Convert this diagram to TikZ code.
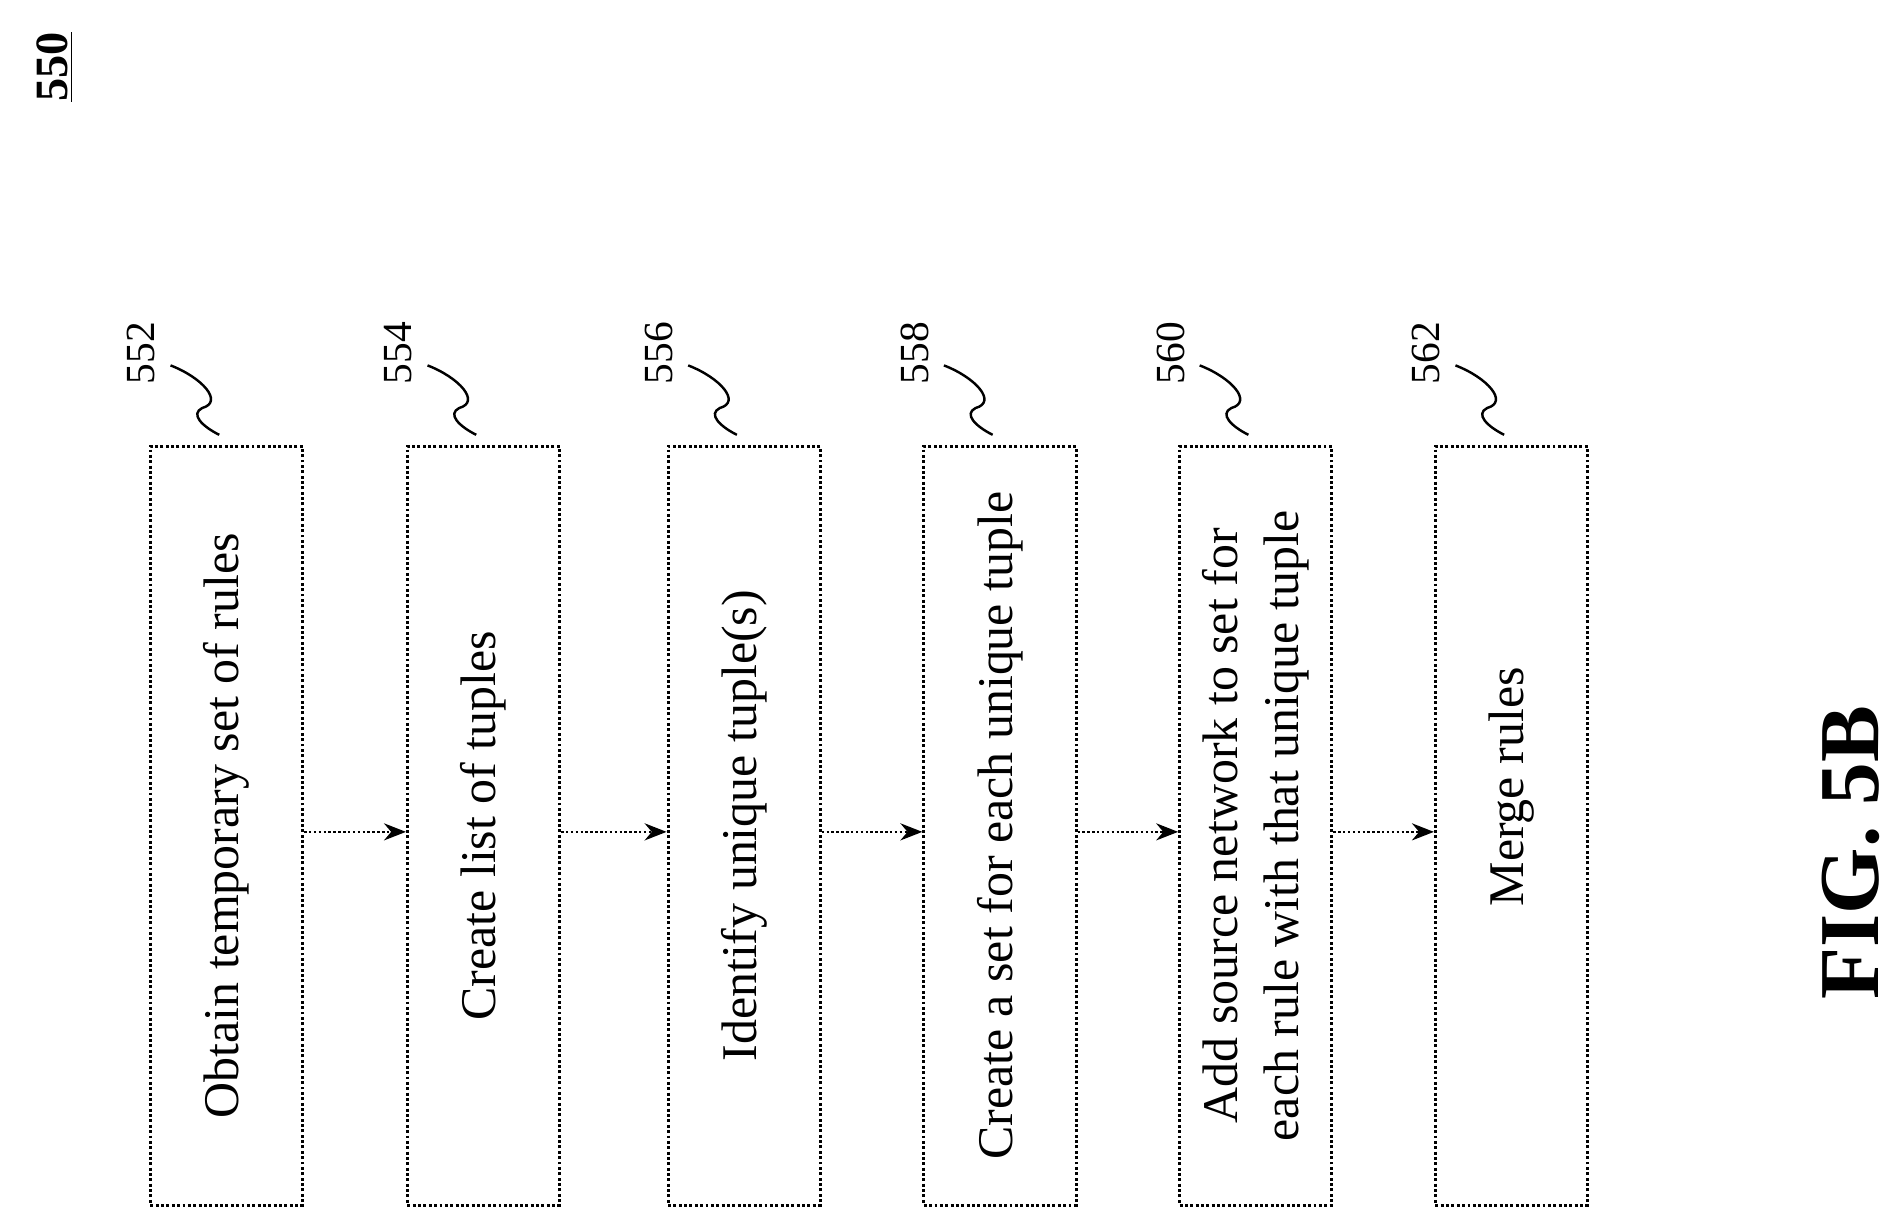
\documentclass[tikz,border=0pt]{standalone}
\usepackage{fontspec}
\setmainfont{Liberation Serif}
\usetikzlibrary{arrows.meta}
\begin{document}
\begin{tikzpicture}[x=0.5pt,y=-0.5pt,
  box/.style={draw,line width=1.2pt,densely dotted,minimum width=125*0.5pt,minimum height=623*0.5pt,inner sep=0},
  txt/.style={rotate=90,font=\fontsize{20.5}{25}\selectfont,align=center},
  num/.style={rotate=90,font=\fontsize{17}{20}\selectfont},
  arr/.style={line width=1pt,densely dotted,-{Stealth[length=9pt,width=7pt]}}]
\useasboundingbox (0,0) rectangle (1560,1002);
\node[rotate=90,font=\bfseries\fontsize{19}{22}\selectfont] (t550) at (45,55) {\underline{550}};
\node[rotate=90,font=\bfseries\fontsize{35}{40}\selectfont] (fig) at (1520,700) {FIG. 5B};
\foreach \i/\x/\n in {1/186/552,2/397/554,3/611/556,4/821/558,5/1031/560,6/1241/562}{
  \node[box] (b\i) at (\x,678) {};
  \node[num] (n\i) at (\x-70,290) {\n};
  \coordinate (s\i) at (\x-46,300);
  \coordinate (e\i) at (\x-6,357);
  \draw[line width=1pt] (s\i) .. controls (\x-20,310) and (\x-2,330) .. (\x-20,335) .. controls (\x-30,340) and (\x-20,350) .. (e\i);
}
\node[txt] at (b1) {Obtain temporary set of rules};
\node[txt] at (b2) {Create list of tuples};
\node[txt] at (b3) {Identify unique tuple(s)};
\node[txt] at (b4) {Create a set for each unique tuple};
\node[txt] at (b5) {Add source network to set for\\each rule with that unique tuple};
\node[txt] at ([yshift=16pt]b6) {Merge rules};
\foreach \a/\b in {1/2,2/3,3/4,4/5,5/6}{
  \draw[arr] (b\a.east |- 0,683) -- (b\b.west |- 0,683);
}
\end{tikzpicture}
\end{document}
